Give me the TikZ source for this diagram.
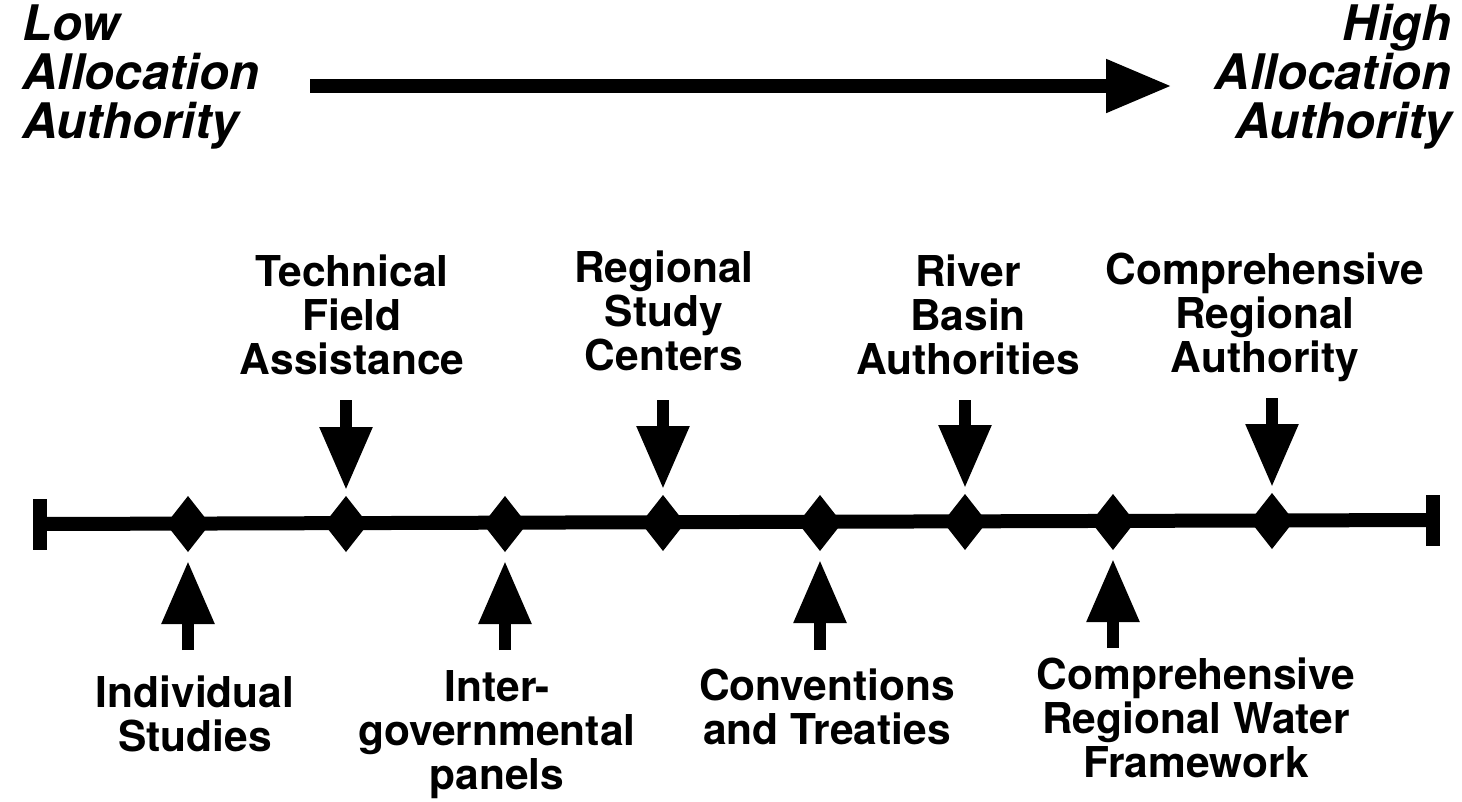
\documentclass[tikz,border=0pt]{standalone}
\usepackage{fontspec}
\setmainfont{TeX Gyre Heros}
\usetikzlibrary{shapes.geometric,arrows.meta}
\begin{document}
\begin{tikzpicture}[x=1pt,y=-1pt,
  gem/.style={diamond,fill=black,inner sep=0pt,outer sep=0pt,minimum width=44pt,minimum height=56pt},
  capbar/.style={rectangle,fill=black,inner sep=0pt,outer sep=0pt,minimum width=14pt,minimum height=51pt},
  lbl/.style={align=center,anchor=base,inner sep=0pt,font=\fontsize{42.5}{44}\selectfont\bfseries},
  headlbl/.style={inner sep=0pt,font=\fontsize{49}{49}\selectfont\bfseries\itshape},
  pointer/.style={line width=12pt,-{Triangle[width=50pt,length=63pt]}},
  bigarrow/.style={line width=14pt,-{Triangle[width=50pt,length=66pt]}},
  axis/.style={line width=14pt}
]
\useasboundingbox (0,0) rectangle (1462,801);

% headings
\node[headlbl,align=left,anchor=base west] (low) at (22,138) {Low\\Allocation\\Authority};
\node[headlbl,align=right,anchor=base east] (high) at (1452,138) {High\\Allocation\\Authority};
\coordinate (as) at (310,86);
\coordinate (ae) at (1172,86);
\draw[bigarrow] (as) -- (ae);

% axis
\node[capbar] (lc) at (40,524) {};
\node[capbar] (rc) at (1433,520) {};
\draw[axis] (lc.center) -- (rc.center);

\node[gem] (d1) at (188,524) {};
\node[gem] (d2) at (346,524) {};
\node[gem] (d3) at (505,524) {};
\node[gem] (d4) at (663,523) {};
\node[gem] (d5) at (820,523) {};
\node[gem] (d6) at (965,522) {};
\node[gem] (d7) at (1113,522) {};
\node[gem] (d8) at (1272,521) {};

% down arrows
\coordinate (t2) at (346,400);
\coordinate (t4) at (663,400);
\coordinate (t6) at (965,400);
\coordinate (t8) at (1272,398);
\draw[pointer,shorten >=6pt] (t2) -- (d2.north);
\draw[pointer,shorten >=6pt] (t4) -- (d4.north);
\draw[pointer,shorten >=6pt] (t6) -- (d6.north);
\draw[pointer,shorten >=6pt] (t8) -- (d8.north);

% up arrows
\coordinate (b1) at (188,650);
\coordinate (b3) at (505,650);
\coordinate (b5) at (820,650);
\coordinate (b7) at (1113,648);
\draw[pointer,shorten >=9pt] (b1) -- (d1.south);
\draw[pointer,shorten >=9pt] (b3) -- (d3.south);
\draw[pointer,shorten >=9pt] (b5) -- (d5.south);
\draw[pointer,shorten >=9pt] (b7) -- (d7.south);

% top labels (anchored at the baseline of the last line)
\node[lbl] (tfa) at (352,374) {Technical\\Field\\Assistance};
\node[lbl] (rsc) at (664,370) {Regional\\Study\\Centers};
\node[lbl] (rba) at (968,374) {River\\Basin\\Authorities};
\node[lbl] (cra) at (1265,372) {Comprehensive\\Regional\\Authority};

% bottom labels
\node[lbl] (ind) at (195,751) {Individual\\Studies};
\node[lbl] (igp) at (497,789) {Inter-\\governmental\\panels};
\node[lbl] (cat) at (827,744) {Conventions\\and Treaties};
\node[lbl] (crw) at (1196,777) {Comprehensive\\Regional Water\\Framework};
\end{tikzpicture}
\end{document}
